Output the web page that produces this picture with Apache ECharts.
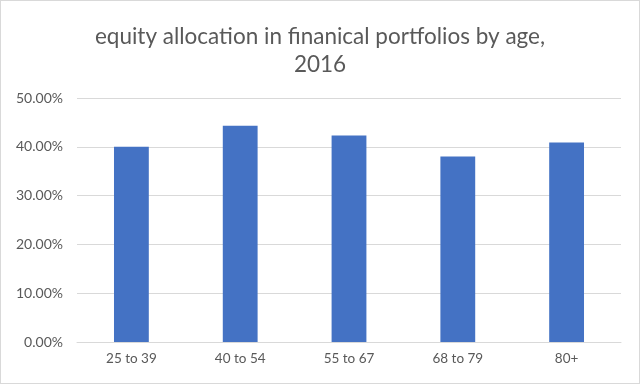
<!DOCTYPE html>
<html><head><meta charset="utf-8">
<script src="https://cdn.jsdelivr.net/npm/echarts@6/dist/echarts.min.js"></script>
<style>html,body{margin:0;padding:0;background:#fff}#c{width:640px;height:384px;box-sizing:border-box;border:1px solid #d9d9d9}</style>
</head><body><div id="c"></div>
<script>
const categories = ['25 to 39', '40 to 54', '55 to 67', '68 to 79', '80+'];
const values = [0.400, 0.443, 0.423, 0.380, 0.409];
const titleText = 'equity allocation in finanical portfolios by age,\n2016';
const chart = echarts.init(document.getElementById('c'));
chart.setOption({
  animation: false,
  title: {
    text: titleText, left: 'center', top: 17,
    textStyle: { fontFamily: 'Lato', fontSize: 22.5, fontWeight: 'normal', color: '#595959', lineHeight: 28 }
  },
  grid: { left: 76, right: 18, top: 97, bottom: 41, containLabel: false },
  xAxis: {
    type: 'category', data: categories,
    axisLine: { lineStyle: { color: '#d9d9d9' } },
    axisTick: { show: false },
    axisLabel: { color: '#595959', fontFamily: 'Lato', fontSize: 13.5, margin: 10 }
  },
  yAxis: {
    type: 'value', min: 0, max: 0.5, interval: 0.1,
    axisLine: { show: false }, axisTick: { show: false },
    splitLine: { lineStyle: { color: '#d9d9d9' } },
    axisLabel: { color: '#595959', fontFamily: 'Lato', fontSize: 14, margin: 14,
      formatter: v => (v * 100).toFixed(2) + '%' }
  },
  series: [{
    type: 'bar', data: values, barWidth: '32%',
    itemStyle: { color: '#4472C4' }
  }]
});
</script></body></html>
